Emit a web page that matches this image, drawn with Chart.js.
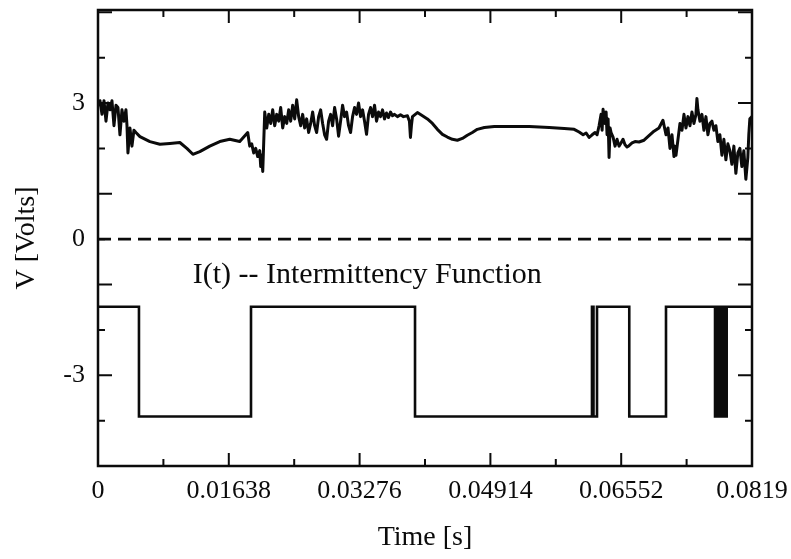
<!DOCTYPE html>
<html>
<head>
<meta charset="utf-8">
<title>Intermittency function</title>
<script src="https://cdn.jsdelivr.net/npm/chart.js@4.4.1/dist/chart.umd.min.js"></script>
<style>
  html, body { margin: 0; padding: 0; background: #fff; }
  #trace { display: block; }
</style>
</head>
<body>
<canvas id="trace" width="791" height="559"></canvas>
<script>
/* Datos (tiempo en ms, tensión en V) */
const traceMs = [
  0, 0.25, 0.5, 0.75, 1.0, 1.25, 1.5, 1.75, 2.0, 2.25, 2.5, 2.75, 3.0, 3.25, 3.5, 3.63, 3.75, 4.0, 4.25, 4.5, 4.75,
  5.25, 6.5, 7.75, 9.0, 10.25, 11.13, 11.88, 12.75, 14.0, 15.25, 16.5, 17.75, 18.75, 19.0, 19.25, 19.5, 19.75, 20.0, 20.25, 20.38, 20.5, 20.63,
  20.88, 21.13, 21.38, 21.63, 21.88, 22.13, 22.38, 22.63, 22.88, 23.13,
  23.38, 23.63, 23.88, 24.13, 24.38, 24.63, 24.88, 25.13, 25.38, 25.63,
  25.88, 26.13, 26.38, 26.63, 26.88, 27.13, 27.38, 27.63, 27.88, 28.13,
  28.38, 28.63, 28.88, 29.13, 29.38, 29.63, 29.88, 30.13, 30.38, 30.63,
  30.88, 31.13, 31.38, 31.63, 31.88, 32.13, 32.38, 32.63, 32.88, 33.13,
  33.38, 33.63, 33.88, 34.13, 34.38, 34.63, 34.88, 35.13, 35.38, 35.63,
  35.88, 36.13, 36.38, 36.63, 36.88, 37.13, 37.5, 37.88, 38.25, 38.75,
  39.0, 39.13, 39.25, 39.38, 40.0, 40.63,
  41.25, 41.88, 42.5, 43.13, 43.75, 44.38, 45.0, 45.63, 46.25, 46.88,
  47.5, 48.38, 49.63, 51.5, 54.0, 56.5, 58.38, 59.63, 60.25, 60.75,
  61.13, 61.5, 61.88, 62.25,
  62.5, 62.75, 63.0, 63.13, 63.25, 63.5, 63.63, 63.75, 63.88, 64.0,
  64.13, 64.25, 64.5, 64.75, 65.0, 65.25, 65.5, 65.75, 66.0, 66.25,
  66.5, 66.88, 67.25, 67.75, 68.38, 69.0, 69.63, 70.25, 70.75, 71.13,
  71.38, 71.63, 71.88, 72.13, 72.25, 72.38, 72.63, 72.88, 73.13, 73.38,
  73.63, 73.88, 74.13, 74.38, 74.63, 74.88, 75.0, 75.13, 75.38, 75.63,
  75.88, 76.13, 76.38, 76.63, 76.88, 77.13, 77.38, 77.63, 77.88, 78.13,
  78.38, 78.63, 78.88, 79.13, 79.38, 79.63, 79.88, 80.13, 80.38, 80.63,
  80.88, 81.13, 81.38, 81.5, 81.63, 81.9
];
const traceV = [
  2.95, 3.05, 2.75, 3.05, 2.6, 3.0, 2.85, 3.05, 2.5, 2.95, 2.9, 2.3, 2.85, 2.6, 2.85, 2.5, 1.9, 2.45, 2.05, 2.4, 2.35,
  2.26, 2.15, 2.09, 2.11, 2.13, 2.0, 1.87, 1.93, 2.05, 2.15, 2.2, 2.15, 2.35, 2.05, 2.1, 1.9, 2.0, 1.82, 1.95, 1.6, 1.85, 1.49,
  2.8, 2.45, 2.75, 2.55, 2.85, 2.5, 2.75, 2.6, 2.9, 2.45,
  2.7, 2.55, 2.85, 2.6, 2.95, 2.65, 3.07, 2.7, 2.5, 2.75,
  2.45, 2.65, 2.35, 2.55, 2.8, 2.5, 2.35, 2.7, 2.85, 2.55,
  2.3, 2.2, 2.6, 2.75, 2.5, 2.9, 2.65, 2.27, 2.6, 2.95,
  2.7, 2.8, 2.5, 2.35, 2.7, 2.9, 2.75, 3.0, 2.7, 2.85,
  2.6, 2.31, 2.75, 2.9, 2.7, 2.95, 2.6, 2.8, 2.7, 2.85,
  2.65, 2.78, 2.68, 2.8, 2.72, 2.75, 2.7, 2.74, 2.7, 2.72,
  2.6, 2.24, 2.5, 2.7, 2.79, 2.72,
  2.65, 2.55, 2.42, 2.31, 2.25, 2.2, 2.18, 2.22, 2.29, 2.35,
  2.42, 2.46, 2.48, 2.48, 2.48, 2.46, 2.44, 2.42, 2.36, 2.3,
  2.34, 2.24, 2.3, 2.35,
  2.3, 2.5, 2.75, 2.4, 2.86, 2.55, 2.8, 2.3, 2.65, 1.8,
  2.45, 2.35, 2.25, 2.05, 2.2, 2.05, 2.12, 2.2, 2.08, 2.03,
  2.06, 2.12, 2.15, 2.14, 2.18, 2.28, 2.38, 2.45, 2.62, 2.3,
  2.45, 2.0, 2.3, 1.82, 2.05, 1.85, 2.2, 2.55, 2.4, 2.75,
  2.45, 2.7, 2.5, 2.8, 2.55, 2.75, 3.1, 2.85, 2.6, 2.75,
  2.4, 2.7, 2.3, 2.55, 2.6, 2.4, 2.5, 2.15, 2.3, 1.85,
  2.2, 1.75, 2.1, 1.95, 1.65, 2.05, 1.45, 1.9, 2.0, 1.6,
  1.95, 1.32, 1.8, 2.3, 2.65, 2.7
];

/* I(t): instantes de cambio (ms) y nivel a partir de cada uno */
const gateMs = [0, 5.13, 19.16, 39.70, 61.86, 62.05, 62.49, 66.53, 71.13,
  77.27, 77.4, 77.53, 77.66, 77.79, 77.92, 78.05, 78.18, 78.31, 78.44, 78.57, 78.73, 81.9];
const gateV = [-1.49, -3.91, -1.49, -3.91, -1.49, -3.91, -1.49, -3.91, -1.49,
  -3.91, -1.49, -3.91, -1.49, -3.91, -1.49, -3.91, -1.49, -3.91, -1.49, -3.91, -1.49, -1.49];

const zeroMs = [0, 81.9];
const zeroV = [0, 0];

const timeTicks = [0, 0.00819, 0.01638, 0.02457, 0.03276, 0.04095, 0.04914, 0.05733, 0.06552, 0.07371, 0.0819];
const timeLabels = ['0', '0.01638', '0.03276', '0.04914', '0.06552', '0.0819'];
const voltTicks = [-5, -4, -3, -2, -1, 0, 1, 2, 3, 4, 5];
const voltLabels = [-3, 0, 3];

const noteText = 'I(t) -- Intermittency Function';
const noteAt = [0.01186, -0.97];

const ink = '#0b0b0b';
const serif = '"Liberation Serif", "Times New Roman", serif';

const toPoints = (ms, vs) => ms.map((t, i) => ({ x: t / 1000, y: vs[i] }));

/* Marco, marcas hacia dentro y rótulo */
const frameTicks = {
  id: 'frameTicks',
  afterDatasetsDraw(chart) {
    const { ctx, chartArea: a, scales: { x, y } } = chart;
    ctx.save();
    ctx.strokeStyle = ink;
    ctx.lineWidth = 2.5;
    ctx.strokeRect(a.left, a.top, a.right - a.left, a.bottom - a.top);
    ctx.lineWidth = 2;
    ctx.beginPath();
    x.ticks.forEach((t, i) => {
      const px = x.getPixelForValue(t.value);
      const len = i % 2 === 0 ? 13 : 7;
      ctx.moveTo(px, a.bottom); ctx.lineTo(px, a.bottom - len);
      ctx.moveTo(px, a.top); ctx.lineTo(px, a.top + len);
    });
    y.ticks.forEach(t => {
      const py = y.getPixelForValue(t.value);
      const len = Math.abs(t.value) % 2 === 1 ? 14 : 7;
      ctx.moveTo(a.left, py); ctx.lineTo(a.left + len, py);
      ctx.moveTo(a.right, py); ctx.lineTo(a.right - len, py);
    });
    ctx.stroke();
    ctx.fillStyle = ink;
    ctx.font = '30px ' + serif;
    ctx.textAlign = 'left';
    ctx.textBaseline = 'alphabetic';
    ctx.fillText(noteText, x.getPixelForValue(noteAt[0]), y.getPixelForValue(noteAt[1]));
    ctx.restore();
  }
};

Chart.defaults.font.family = serif;

new Chart(document.getElementById('trace'), {
  type: 'line',
  data: {
    datasets: [
      {
        data: toPoints(zeroMs, zeroV),
        borderColor: ink, borderWidth: 2.8, borderDash: [13, 7], pointRadius: 0
      },
      {
        data: toPoints(traceMs, traceV),
        borderColor: ink, borderWidth: 3, pointRadius: 0,
        borderJoinStyle: 'round', borderCapStyle: 'round'
      },
      {
        data: toPoints(gateMs, gateV),
        borderColor: ink, borderWidth: 2.6, pointRadius: 0, stepped: 'before'
      }
    ]
  },
  options: {
    responsive: false,
    animation: false,
    devicePixelRatio: 1,
    layout: { padding: { left: 0, right: 39, top: 10, bottom: 0 } },
    plugins: { legend: { display: false }, tooltip: { enabled: false } },
    scales: {
      x: {
        type: 'linear', min: 0, max: 0.0819,
        afterBuildTicks: s => { s.ticks = timeTicks.map(v => ({ value: v })); },
        afterFit: s => { s.height = 93; s.paddingLeft = 0; s.paddingRight = 0; },
        grid: { display: false, drawTicks: false },
        border: { display: false },
        ticks: {
          autoSkip: false, maxRotation: 0, padding: 10, color: ink,
          font: { size: 26 },
          callback: (v, i) => (i % 2 === 0 ? timeLabels[i / 2] : '')
        },
        title: {
          display: true, text: 'Time [s]', color: ink,
          font: { size: 28 }, padding: { top: 0, bottom: 5 }
        }
      },
      y: {
        type: 'linear', min: -5, max: 5.05,
        afterBuildTicks: s => { s.ticks = voltTicks.map(v => ({ value: v })); },
        afterFit: s => { s.width = 98; s.paddingTop = 0; s.paddingBottom = 0; },
        grid: { display: false, drawTicks: false },
        border: { display: false },
        ticks: {
          padding: 13, color: ink, font: { size: 26 },
          callback: v => (voltLabels.includes(v) ? String(v) : '')
        },
        title: {
          display: true, text: 'V [Volts]', color: ink,
          font: { size: 28 }, padding: { top: 10, bottom: 0 }
        }
      }
    }
  },
  plugins: [frameTicks]
});
</script>
</body>
</html>
